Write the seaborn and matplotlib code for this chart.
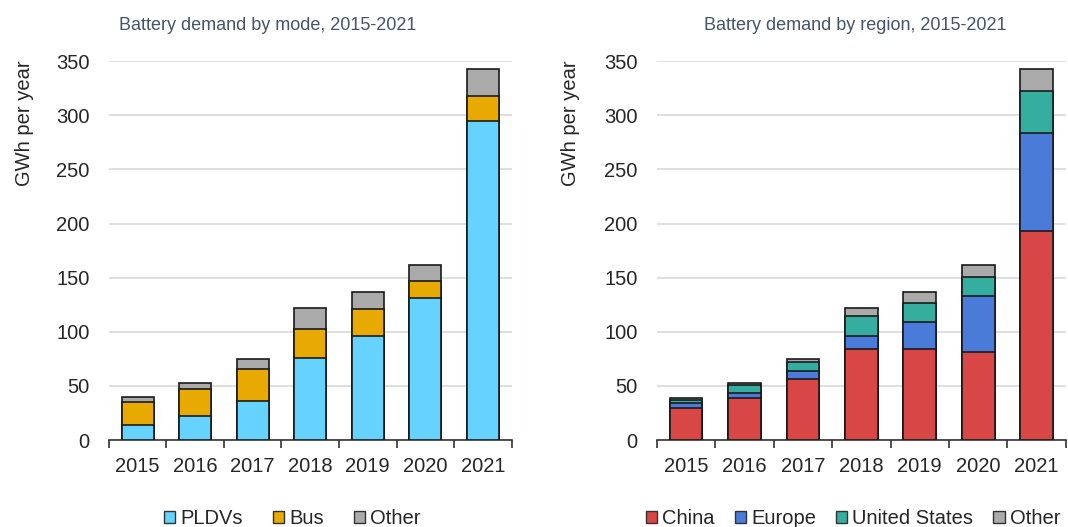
import numpy as np
import pandas as pd
import matplotlib
matplotlib.use('Agg')
import matplotlib.pyplot as plt
import seaborn as sns
from matplotlib.patches import Patch

# Data (GWh per year)
years = ['2015', '2016', '2017', '2018', '2019', '2020', '2021']

mode_names = ['PLDVs', 'Bus', 'Other']
mode_pldv = [14, 22, 36, 76, 96, 131, 295]
mode_bus = [21, 25, 30, 27, 25, 16, 23]
mode_other = [5, 6, 9, 19, 16, 15, 25]
mode_colors = ['#66D2FF', '#E8A900', '#AAAAAA']

region_names = ['China', 'Europe', 'United States', 'Other']
region_china = [30, 39, 56, 84, 84, 81, 193]
region_europe = [4, 4, 8, 12, 25, 52, 91]
region_us = [3, 8, 8, 19, 18, 18, 38]
region_other = [2, 2, 3, 7, 10, 11, 21]
region_colors = ['#D94646', '#4A7BD9', '#36AE9F', '#AAAAAA']

sns.set_theme(style="white")
plt.rcParams['font.family'] = ['Liberation Sans', 'DejaVu Sans']
title_color = '#44546A'


def stacked(ax, series, names, colors):
    df = pd.DataFrame(dict(zip(names, series)), index=years)
    cum = df.cumsum(axis=1)
    # draw from the top layer down so lower layers sit in front
    for name, color in reversed(list(zip(names, colors))):
        sns.barplot(x=cum.index, y=cum[name].values, color=color, saturation=1,
                    edgecolor='#1a1a1a', linewidth=1.2, width=0.56, ax=ax, zorder=3)
    ax.set_ylim(0, 350)
    ax.set_xlim(-0.5, len(years) - 0.5)
    ax.set_yticks(range(0, 351, 50))
    ax.yaxis.grid(True, color='#D9D9D9', linewidth=1.2, zorder=0)
    ax.set_axisbelow(True)
    for s in ['top', 'right', 'left']:
        ax.spines[s].set_visible(False)
    ax.spines['bottom'].set_color('#333333')
    ax.spines['bottom'].set_linewidth(1.2)
    ax.set_xticks(np.arange(-0.5, len(years)), minor=True)
    ax.tick_params(axis='x', which='minor', length=6, width=1.2, color='#333333', bottom=True)
    ax.tick_params(axis='x', which='major', length=0, labelsize=14.5, pad=12)
    ax.tick_params(axis='y', length=0, labelsize=14.5, pad=14)
    ax.set_xlabel('')
    ax.set_ylabel('GWh per year', fontsize=14.5)
    ax.yaxis.set_label_coords(-0.187, 0.835)
    handles = [Patch(facecolor=c, edgecolor='#333333', linewidth=1.0) for c in colors]
    return handles


fig = plt.figure(figsize=(10.68, 5.27), dpi=100)
ax1 = fig.add_axes([0.102, 0.165, 0.377, 0.719])
ax2 = fig.add_axes([0.615, 0.165, 0.383, 0.719])

h1 = stacked(ax1, [mode_pldv, mode_bus, mode_other], mode_names, mode_colors)
h2 = stacked(ax2, [region_china, region_europe, region_us, region_other], region_names, region_colors)

fig.text(0.251, 0.952, 'Battery demand by mode, 2015-2021', ha='center', va='center',
         fontsize=13, color=title_color)
fig.text(0.801, 0.952, 'Battery demand by region, 2015-2021', ha='center', va='center',
         fontsize=13, color=title_color)

leg_kw = dict(loc='upper center', ncol=4, frameon=False, fontsize=14.5,
              handlelength=0.55, handleheight=0.55, handletextpad=0.25)
ax1.legend(h1, mode_names, bbox_to_anchor=(0.455, -0.135), columnspacing=1.5, **leg_kw)
ax2.legend(h2, region_names, bbox_to_anchor=(0.48, -0.135), columnspacing=1.0, **leg_kw)

fig.savefig('out.png', dpi=100)
